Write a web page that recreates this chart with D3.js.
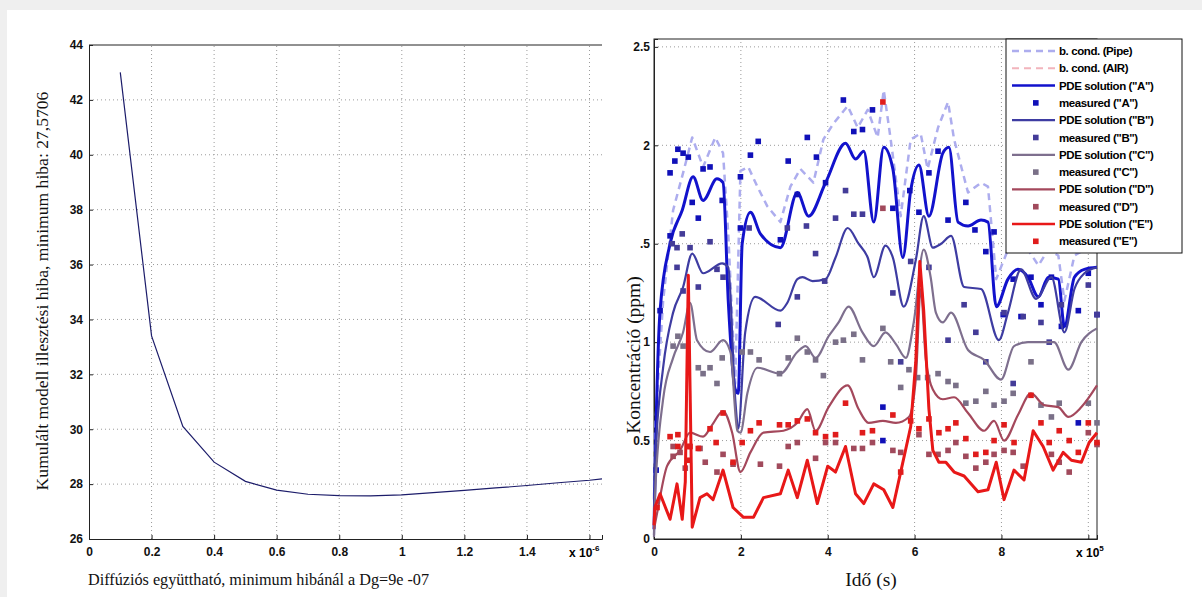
<!DOCTYPE html>
<meta charset="utf-8">
<style>
body { margin: 0; background: #efefef; }
svg { display: block; }
.tick text { font-family: "Liberation Sans", Arial, sans-serif; font-weight: bold; font-size: 12px; fill: #111; }
.grid line { stroke: #9a9a9a; stroke-dasharray: 1,3; }
.title { font-family: "Liberation Serif", "Times New Roman", serif; font-size: 16px; fill: #111; }
.legend text { font-family: "Liberation Sans", Arial, sans-serif; font-weight: bold; font-size: 11.5px; letter-spacing: -0.4px; fill: #000; }
</style>
<svg width="1202" height="597"></svg>
<script src="https://d3js.org/d3.v7.min.js"></script>
<script>

// ---- left chart data: cumulated fitting error vs diffusion coefficient (x 1e-6)
var diffCoef = [0.1, 0.2, 0.3, 0.4, 0.5, 0.6, 0.7, 0.8, 0.9, 1.0, 1.1, 1.2, 1.3, 1.4, 1.5, 1.6, 1.64];
var fitError = [43.0, 33.4, 30.1, 28.8, 28.1, 27.78, 27.63, 27.58, 27.5706, 27.61, 27.69, 27.77, 27.86, 27.95, 28.05, 28.14, 28.19];

// ---- right chart data: concentration vs time (x 1e5 s), [time, ppm]
var bcPipe = [[0,0.20],[0.02,0.54],[0.21,1.21],[0.44,1.67],[0.67,1.86],[0.88,2.04],[1.13,1.89],[1.41,2.04],[1.59,1.96],[1.71,1.55],[1.87,0.79],[1.99,1.87],[2.17,1.89],[2.38,1.79],[2.61,1.69],[2.91,1.61],[3.14,1.79],[3.37,1.88],[3.67,1.81],[3.90,2.03],[4.13,2.11],[4.46,2.20],[4.69,2.09],[4.92,2.18],[5.15,2.04],[5.29,2.28],[5.45,2.03],[5.68,1.64],[5.91,2.03],[6.14,2.06],[6.30,1.88],[6.54,2.09],[6.77,2.22],[6.91,2.03],[7.23,1.76],[7.53,1.81],[7.69,1.79],[7.88,1.32],[8.15,1.47],[8.38,1.52],[8.61,1.47],[8.85,1.39],[9.08,1.47],[9.31,1.44],[9.45,1.21],[9.68,1.44],[9.91,1.47],[10.2,1.49]];
// the air boundary condition runs under the "E" solution in the original
var bcAir = [[0,0.07],[0.02,0.16],[0.14,0.23],[0.37,0.10],[0.53,0.28],[0.65,0.10],[0.72,0.29],[0.79,1.34],[0.88,0.06],[1.06,0.21],[1.22,0.23],[1.36,0.20],[1.59,0.35],[1.82,0.16],[2.06,0.11],[2.29,0.11],[2.52,0.21],[2.91,0.23],[3.09,0.35],[3.30,0.21],[3.53,0.40],[3.76,0.18],[4.00,0.37],[4.18,0.34],[4.41,0.47],[4.64,0.23],[4.83,0.18],[5.06,0.28],[5.29,0.25],[5.50,0.16],[5.68,0.34],[5.91,0.57],[6.03,0.91],[6.12,1.41],[6.21,1.16],[6.33,0.66],[6.42,0.45],[6.56,0.39],[6.72,0.39],[6.91,0.34],[7.14,0.32],[7.46,0.24],[7.69,0.25],[7.88,0.39],[8.06,0.20],[8.29,0.35],[8.52,0.30],[8.73,0.55],[8.96,0.47],[9.19,0.35],[9.42,0.44],[9.61,0.40],[9.84,0.39],[10.02,0.49],[10.2,0.54]];

var pdeA = [[0,0.05],[0.05,0.60],[0.14,1.16],[0.37,1.50],[0.65,1.67],[0.90,1.84],[1.13,1.72],[1.45,1.83],[1.59,1.81],[1.71,1.21],[1.87,0.76],[1.94,0.74],[2.03,1.50],[2.22,1.66],[2.45,1.55],[2.91,1.48],[3.30,1.76],[3.56,1.64],[3.95,1.81],[4.41,2.01],[4.64,1.93],[4.83,1.97],[5.06,1.61],[5.29,1.99],[5.50,1.88],[5.73,1.43],[5.91,1.77],[6.10,1.90],[6.33,1.64],[6.65,1.96],[6.79,1.99],[7.00,1.61],[7.23,1.59],[7.53,1.62],[7.69,1.61],[7.88,1.18],[8.15,1.32],[8.38,1.37],[8.61,1.33],[8.85,1.23],[9.08,1.33],[9.31,1.32],[9.45,1.08],[9.68,1.33],[9.91,1.37],[10.2,1.38]];
var pdeB = [[0,0.02],[0.02,0.37],[0.21,0.87],[0.44,1.15],[0.67,1.28],[0.88,1.45],[1.13,1.35],[1.57,1.40],[1.71,1.38],[1.87,0.71],[1.94,0.56],[2.10,1.05],[2.33,1.23],[2.91,1.16],[3.07,1.20],[3.30,1.32],[3.42,1.33],[3.65,1.31],[3.95,1.32],[4.18,1.43],[4.46,1.58],[4.71,1.50],[4.92,1.43],[5.06,1.33],[5.33,1.49],[5.50,1.43],[5.75,1.18],[6.03,1.42],[6.21,1.64],[6.42,1.48],[6.61,1.50],[6.84,1.54],[7.14,1.28],[7.53,1.27],[7.94,1.01],[8.15,1.15],[8.45,1.37],[8.80,1.22],[9.15,1.33],[9.45,1.05],[9.68,1.27],[9.91,1.35],[10.2,1.38]];
var pdeC = [[0,0.01],[0.02,0.20],[0.21,0.71],[0.44,0.92],[0.67,1.05],[0.83,1.20],[0.99,1.01],[1.29,0.95],[1.59,1.01],[1.76,0.95],[1.92,0.55],[1.99,0.54],[2.15,0.74],[2.38,0.87],[2.91,0.84],[3.30,0.95],[3.49,0.98],[3.72,0.92],[4.02,1.03],[4.25,1.10],[4.48,1.18],[4.80,1.05],[5.06,0.98],[5.33,1.05],[5.57,0.99],[5.80,0.92],[5.98,1.10],[6.21,1.47],[6.37,1.33],[6.49,1.15],[6.65,1.10],[6.84,1.15],[7.23,0.96],[7.60,0.91],[7.99,0.81],[8.29,0.98],[8.61,1.00],[8.91,1.00],[9.21,1.00],[9.54,0.86],[9.84,1.00],[10.2,1.07]];
var pdeD = [[0,0.05],[0.07,0.13],[0.30,0.37],[0.60,0.45],[0.83,0.54],[1.13,0.52],[1.34,0.58],[1.59,0.65],[1.80,0.54],[1.99,0.34],[2.22,0.44],[2.52,0.54],[2.98,0.55],[3.30,0.59],[3.53,0.66],[3.72,0.55],[4.02,0.67],[4.46,0.78],[4.71,0.66],[4.94,0.59],[5.27,0.60],[5.57,0.59],[5.87,0.62],[6.03,0.82],[6.14,1.27],[6.26,0.91],[6.42,0.76],[6.65,0.71],[6.91,0.72],[7.23,0.64],[7.60,0.55],[7.83,0.60],[8.06,0.50],[8.38,0.63],[8.68,0.74],[8.98,0.68],[9.31,0.67],[9.54,0.62],[9.84,0.67],[10.2,0.78]];
var pdeE = [[0,0.07],[0.02,0.16],[0.14,0.23],[0.37,0.10],[0.53,0.28],[0.65,0.10],[0.72,0.29],[0.79,1.34],[0.88,0.06],[1.06,0.21],[1.22,0.23],[1.36,0.20],[1.59,0.35],[1.82,0.16],[2.06,0.11],[2.29,0.11],[2.52,0.21],[2.91,0.23],[3.09,0.35],[3.30,0.21],[3.53,0.40],[3.76,0.18],[4.00,0.37],[4.18,0.34],[4.41,0.47],[4.64,0.23],[4.83,0.18],[5.06,0.28],[5.29,0.25],[5.50,0.16],[5.68,0.34],[5.91,0.57],[6.03,0.91],[6.12,1.41],[6.21,1.16],[6.33,0.66],[6.42,0.45],[6.56,0.39],[6.72,0.39],[6.91,0.34],[7.14,0.32],[7.46,0.24],[7.69,0.25],[7.88,0.39],[8.06,0.20],[8.29,0.35],[8.52,0.30],[8.73,0.55],[8.96,0.47],[9.19,0.35],[9.42,0.44],[9.61,0.40],[9.84,0.39],[10.02,0.49],[10.2,0.54]];

var measA = [[0.05,0.35],[0.14,1.16],[0.37,1.54],[0.37,1.86],[0.48,1.92],[0.55,1.98],[0.67,1.96],[0.79,1.94],[0.88,1.71],[1.02,1.63],[1.13,1.88],[1.29,1.89],[1.57,1.72],[1.99,1.84],[1.99,1.58],[2.22,1.95],[2.40,2.02],[2.91,1.52],[3.09,1.92],[3.30,1.75],[3.53,2.04],[3.74,1.94],[3.95,1.81],[4.36,2.23],[4.60,2.07],[4.80,2.08],[5.03,2.18],[5.27,0.67],[5.27,0.50],[5.50,1.68],[5.89,1.77],[6.10,1.66],[6.33,1.86],[6.54,1.97],[6.77,1.62],[7.18,1.71],[7.39,1.57],[7.64,1.46],[7.83,1.56],[8.04,1.14],[8.27,1.32],[8.45,1.13],[8.68,1.33],[8.91,1.19],[9.15,1.33],[9.38,1.08],[9.77,1.16],[9.77,0.59],[10.0,1.35],[10.2,1.14]];
var measB = [[0.42,1.50],[0.53,1.48],[0.65,1.55],[0.83,1.48],[0.53,1.38],[0.67,1.26],[1.02,1.28],[1.29,1.51],[1.45,1.37],[1.59,1.33],[2.19,1.58],[2.86,1.09],[3.07,1.58],[3.30,1.23],[3.51,1.59],[3.72,1.45],[3.93,1.31],[4.18,1.63],[4.41,1.77],[4.60,1.65],[4.80,1.65],[5.50,1.25],[5.68,0.90],[5.91,1.41],[6.33,1.38],[6.77,1.01],[7.14,1.19],[7.41,1.05],[7.64,0.90],[8.06,1.15],[8.27,0.79],[8.50,1.13],[8.91,1.10],[9.10,1.00],[9.38,1.19],[10.0,1.29],[10.2,1.14]];
var measC = [[0.44,0.98],[0.55,1.03],[0.67,0.98],[1.02,0.87],[1.13,0.84],[1.29,0.87],[1.45,0.79],[1.57,0.92],[2.03,0.95],[2.22,0.95],[2.42,0.91],[2.89,0.84],[3.09,0.92],[3.30,1.02],[3.53,0.95],[3.72,0.91],[3.90,0.83],[4.18,1.00],[4.36,1.01],[4.60,1.04],[4.80,0.91],[5.27,1.07],[5.45,0.90],[5.68,0.77],[5.87,0.86],[6.07,0.82],[6.30,0.82],[6.54,0.84],[6.77,0.80],[6.95,0.78],[7.18,0.69],[7.41,0.70],[7.64,0.75],[7.83,0.68],[8.06,0.70],[8.27,0.74],[8.68,0.90],[8.91,0.68],[9.15,0.62],[9.33,0.69],[10.0,0.69],[10.2,0.59]];
var measD = [[0.44,0.47],[0.44,0.42],[0.60,0.44],[0.72,0.36],[1.06,0.46],[1.18,0.39],[1.45,0.34],[1.59,0.43],[1.82,0.38],[2.45,0.38],[2.89,0.37],[3.09,0.47],[3.30,0.49],[3.72,0.41],[3.95,0.49],[4.18,0.49],[4.60,0.46],[4.80,0.46],[5.03,0.49],[5.27,1.68],[5.50,0.45],[5.68,0.44],[6.10,0.53],[6.33,0.43],[6.54,0.43],[6.77,0.45],[6.95,0.49],[7.18,0.42],[7.41,0.36],[7.64,0.39],[7.83,0.43],[8.06,0.45],[8.27,0.44],[8.50,0.37],[9.15,0.43],[9.33,0.39],[9.56,0.34],[10.0,0.54],[10.2,0.48]];
var measE = [[0.07,0.16],[0.37,0.52],[0.55,0.53],[0.55,0.47],[0.79,0.47],[0.79,0.40],[0.83,0.47],[1.02,0.46],[1.29,0.56],[1.43,0.49],[1.59,0.64],[1.82,0.39],[2.03,0.49],[2.22,0.55],[2.42,0.59],[2.89,0.58],[3.09,0.58],[3.30,0.60],[3.53,0.61],[3.72,0.54],[3.95,0.52],[4.18,0.53],[4.41,0.69],[4.80,0.54],[5.03,0.55],[5.27,2.22],[5.50,0.63],[5.68,0.34],[5.91,0.60],[6.10,0.56],[6.33,0.61],[6.56,0.54],[6.77,0.56],[6.95,0.59],[7.18,0.51],[7.41,0.43],[7.64,0.44],[7.83,0.50],[8.06,0.58],[8.29,0.49],[8.68,0.73],[8.91,0.59],[9.10,0.49],[9.33,0.55],[9.56,0.50],[9.77,0.44],[10.0,0.59],[10.2,0.49]];

var legendLabels = ["b. cond. (Pipe)", "b. cond. (AIR)",
  "PDE solution (\"A\")", "measured (\"A\")", "PDE solution (\"B\")", "measured (\"B\")",
  "PDE solution (\"C\")", "measured (\"C\")", "PDE solution (\"D\")", "measured (\"D\")",
  "PDE solution (\"E\")", "measured (\"E\")"];

var svg = d3.select("svg");

// white figure area
svg.append("rect").attr("x", 7).attr("y", 10).attr("width", 1195).attr("height", 587).attr("fill", "#fff");

// ================= LEFT CHART =================
var lx = d3.scaleLinear().domain([0, 1.64]).range([89, 602]);
var ly = d3.scaleLinear().domain([26, 44]).range([539, 45]);
var left = svg.append("g");

var lxTicks = d3.range(0, 1.61, 0.2);
var lyTicks = d3.range(26, 44.1, 2);

left.append("g").attr("class", "grid").selectAll("line").data(lxTicks.slice(1)).enter().append("line")
  .attr("x1", function(d){ return lx(d); }).attr("x2", function(d){ return lx(d); })
  .attr("y1", ly(26)).attr("y2", ly(44));
left.append("g").attr("class", "grid").selectAll("line").data(lyTicks.slice(1, -1)).enter().append("line")
  .attr("y1", function(d){ return ly(d); }).attr("y2", function(d){ return ly(d); })
  .attr("x1", lx(0)).attr("x2", lx(1.64));

left.append("g").attr("transform", "translate(0," + ly(26) + ")")
  .call(d3.axisBottom(lx).tickValues(lxTicks).tickSize(-4).tickPadding(8)
    .tickFormat(function(d){ return d > 1.5 ? "" : d3.format("~g")(+d.toFixed(1)); }));
left.append("g").attr("transform", "translate(" + lx(0) + ",0)")
  .call(d3.axisLeft(ly).tickValues(lyTicks).tickSize(-4).tickPadding(6));
left.append("line").attr("x1", lx(0)).attr("x2", lx(1.64)).attr("y1", ly(44)).attr("y2", ly(44)).attr("stroke", "#222");
left.selectAll(".domain").attr("stroke", "#222");
left.selectAll(".tick line").attr("stroke", "#222");

left.append("path").datum(diffCoef.map(function(d, i){ return [d, fitError[i]]; }))
  .attr("fill", "none").attr("stroke", "#1c1c6a").attr("stroke-width", 1.2)
  .attr("d", d3.line().x(function(d){ return lx(d[0]); }).y(function(d){ return ly(d[1]); }));

var lmul = left.append("text").attr("x", 569).attr("y", 557);
lmul.append("tspan").text("x 10").attr("style", "font-family:Liberation Sans;font-weight:bold;font-size:12px");
lmul.append("tspan").text("-6").attr("dy", -6).attr("style", "font-family:Liberation Sans;font-weight:bold;font-size:8px");

left.append("text").attr("class", "title").attr("x", 88).attr("y", 585).style("font-size", "16.2px")
  .text("Diffúziós együttható, minimum hibánál a Dg=9e -07");
left.append("text").attr("class", "title").attr("transform", "translate(48,291) rotate(-90)").style("font-size", "17.6px")
  .attr("text-anchor", "middle").text("Kumulált modell illesztési hiba, minimum hiba: 27,5706");

// ================= RIGHT CHART =================
var rx = d3.scaleLinear().domain([0, 10.2]).range([654, 1097]);
var ry = d3.scaleLinear().domain([0, 2.54]).range([539, 39]);
var right = svg.append("g");

var rxTicks = [0, 2, 4, 6, 8, 10];
var ryTicks = [0, 0.5, 1, 1.5, 2, 2.5];

right.append("g").attr("class", "grid").selectAll("line").data(rxTicks.slice(1)).enter().append("line")
  .attr("x1", function(d){ return rx(d); }).attr("x2", function(d){ return rx(d); })
  .attr("y1", ry(0)).attr("y2", ry(2.54));
right.append("g").attr("class", "grid").selectAll("line").data(ryTicks.slice(1)).enter().append("line")
  .attr("y1", function(d){ return ry(d); }).attr("y2", function(d){ return ry(d); })
  .attr("x1", rx(0)).attr("x2", rx(10.2));

right.append("g").attr("transform", "translate(0," + ry(0) + ")")
  .call(d3.axisBottom(rx).tickValues(rxTicks).tickSize(-4).tickPadding(8)
    .tickFormat(function(d){ return d === 10 ? "" : d; }));
right.append("g").attr("transform", "translate(" + rx(0) + ",0)")
  .call(d3.axisLeft(ry).tickValues(ryTicks).tickSize(-4).tickPadding(4)
    .tickFormat(function(d){ return d === 1.5 ? ".5" : d; }));
right.append("rect").attr("x", rx(0)).attr("y", ry(2.54)).attr("width", rx(10.2) - rx(0)).attr("height", ry(0) - ry(2.54))
  .attr("fill", "none").attr("stroke", "#222");
right.selectAll(".domain").attr("stroke", "#222");
right.selectAll(".tick line").attr("stroke", "#222");

var rmul = right.append("text").attr("x", 1076).attr("y", 557);
rmul.append("tspan").text("x 10").attr("style", "font-family:Liberation Sans;font-weight:bold;font-size:12px");
rmul.append("tspan").text("5").attr("dy", -6).attr("style", "font-family:Liberation Sans;font-weight:bold;font-size:8px");

right.append("text").attr("class", "title").attr("x", 871).attr("y", 586).attr("text-anchor", "middle")
  .style("font-size", "19.5px").text("Idő (s)");
right.append("text").attr("class", "title").attr("transform", "translate(640,355) rotate(-90)")
  .style("font-size", "19.5px").attr("text-anchor", "middle").text("Koncentráció (ppm)");

var plot = right.append("g");
var smooth = d3.line().x(function(d){ return rx(d[0]); }).y(function(d){ return ry(d[1]); }).curve(d3.curveMonotoneX);
var straight = d3.line().x(function(d){ return rx(d[0]); }).y(function(d){ return ry(d[1]); });

var series = [
  {type: "line", data: bcPipe, color: "#adadee", width: 2.5, dash: "7,5", gen: straight},
  {type: "line", data: bcAir, color: "#f2b4bc", width: 2, dash: "7,5", gen: straight},
  {type: "line", data: pdeA, color: "#1212cc", width: 3, gen: smooth},
  {type: "mark", data: measA, color: "#1010b8"},
  {type: "line", data: pdeB, color: "#3e3ca2", width: 2.2, gen: smooth},
  {type: "mark", data: measB, color: "#443c98"},
  {type: "line", data: pdeC, color: "#7e6f8e", width: 2.2, gen: smooth},
  {type: "mark", data: measC, color: "#7a7088"},
  {type: "line", data: pdeD, color: "#a4485c", width: 2.2, gen: smooth},
  {type: "mark", data: measD, color: "#a14a5c"},
  {type: "line", data: pdeE, color: "#e81818", width: 3, gen: straight},
  {type: "mark", data: measE, color: "#e01c1c"}
];

series.forEach(function(s){
  if (s.type === "line") {
    plot.append("path").datum(s.data).attr("fill", "none").attr("stroke", s.color)
      .attr("stroke-width", s.width).attr("stroke-dasharray", s.dash || null)
      .attr("stroke-linejoin", "round").attr("d", s.gen);
  } else {
    plot.append("g").selectAll("rect").data(s.data).enter().append("rect")
      .attr("x", function(d){ return rx(d[0]) - 2.8; }).attr("y", function(d){ return ry(d[1]) - 2.8; })
      .attr("width", 5.6).attr("height", 5.6).attr("fill", s.color);
  }
});

// legend
var lg = svg.append("g").attr("class", "legend");
lg.append("rect").attr("x", 1006).attr("y", 39).attr("width", 176).attr("height", 214)
  .attr("fill", "#fff").attr("stroke", "#111").attr("stroke-width", 1);
series.forEach(function(s, i){
  var yy = 51 + i * 17.3;
  if (s.type === "line") {
    lg.append("line").attr("x1", 1012).attr("x2", 1055).attr("y1", yy).attr("y2", yy)
      .attr("stroke", s.color).attr("stroke-width", Math.min(s.width, 2.5)).attr("stroke-dasharray", s.dash || null);
  } else {
    lg.append("rect").attr("x", 1033).attr("y", yy - 2.8).attr("width", 5.6).attr("height", 5.6).attr("fill", s.color);
  }
  lg.append("text").attr("x", 1059).attr("y", yy + 4).text(legendLabels[i]);
});

</script>
